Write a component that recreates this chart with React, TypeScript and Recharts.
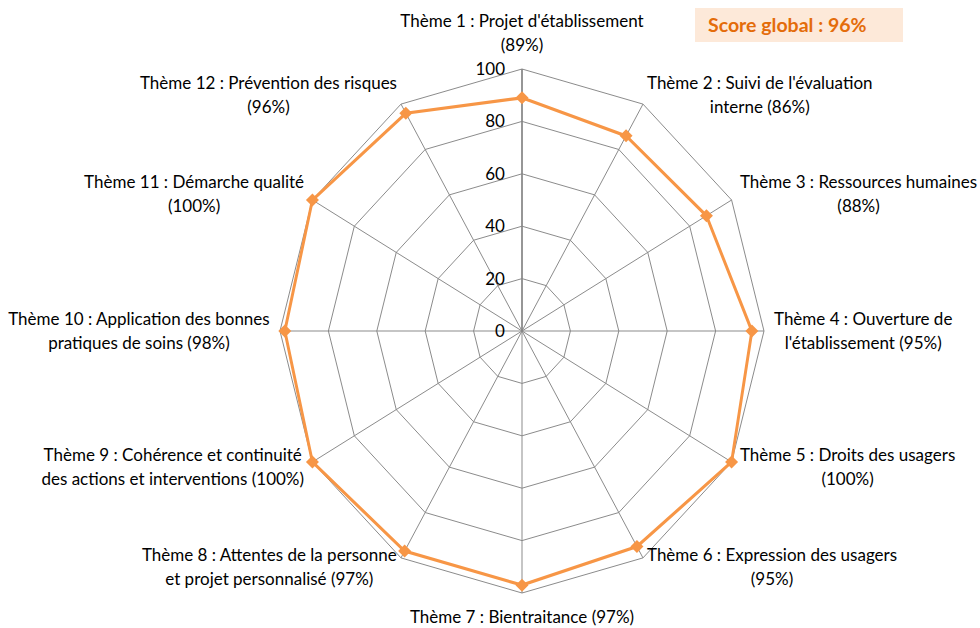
import React from "react";
import {
  PolarAngleAxis,
  PolarGrid,
  PolarRadiusAxis,
  Radar,
  RadarChart,
} from "recharts";

const themes = [
  "Thème 1",
  "Thème 2",
  "Thème 3",
  "Thème 4",
  "Thème 5",
  "Thème 6",
  "Thème 7",
  "Thème 8",
  "Thème 9",
  "Thème 10",
  "Thème 11",
  "Thème 12",
];

const scores = [89, 86, 88, 95, 100, 95, 97, 97, 100, 98, 100, 96];

const labelLines = [
  ["Thème 1 : Projet d'établissement", "(89%)"],
  ["Thème 2 : Suivi de l'évaluation", "interne (86%)"],
  ["Thème 3 : Ressources humaines", "(88%)"],
  ["Thème 4 : Ouverture de", "l'établissement (95%)"],
  ["Thème 5 : Droits des usagers", "(100%)"],
  ["Thème 6 : Expression des usagers", "(95%)"],
  ["Thème 7 : Bientraitance (97%)"],
  ["Thème 8 : Attentes de la personne", "et projet personnalisé (97%)"],
  ["Thème 9 : Cohérence et continuité", "des actions et interventions (100%)"],
  ["Thème 10 : Application des bonnes", "pratiques de soins (98%)"],
  ["Thème 11 : Démarche qualité", "(100%)"],
  ["Thème 12 : Prévention des risques", "(96%)"],
];

const radiusTicks = [0, 20, 40, 60, 80, 100];
const globalScore = "Score global : 96%";

const data = themes.map((t, i) => ({ theme: t, score: scores[i] }));

// the original radar is a bit wider than tall, so the svg gets squeezed with scaleX
const CX = 522; // on screen
const CY = 331;
const R = 262;
const RX = 242;
const K = RX / R;
const SVG_W = 1200;
const SVG_CX = SVG_W / 2;
const FONT = "Lato, 'Open Sans', sans-serif";
const FS = 17;
const LH = 24;

let ctx: CanvasRenderingContext2D | null = null;
function measure(text: string) {
  if (!ctx) ctx = document.createElement("canvas").getContext("2d");
  if (!ctx) return text.length * FS * 0.5;
  ctx.font = `${FS}px ${FONT}`;
  return ctx.measureText(text).width;
}

// screen x -> svg x (before the scaleX)
const toSvgX = (sx: number) => SVG_CX + (sx - CX) / K;
const unsquash = (ax: number) =>
  `translate(${ax},0) scale(${1 / K},1) translate(${-ax},0)`;

function AngleTick(props: any) {
  const { x, y, index } = props;
  const dx = x - SVG_CX;
  const dy = y - CY;
  const len = Math.hypot(dx, dy) || 1;
  const c = dx / len;
  const s = -dy / len;
  const vx = CX + RX * c;
  const vy = CY - R * s;
  const lines = labelLines[index] || [];
  const w = Math.max(...lines.map(measure));
  const h = lines.length * LH;
  let bx: number;
  let by: number;
  if (Math.abs(c) < 0.01) {
    bx = vx;
    by = s > 0 ? vy - 12 - h / 2 : vy + 12 + h / 2;
  } else {
    const gap = 12 * Math.abs(c) - 2;
    bx = c > 0 ? vx + gap + w / 2 : vx - gap - w / 2;
    by = vy - s * 11;
  }
  const ax = toSvgX(bx);
  return (
    <text
      textAnchor="middle"
      fontFamily={FONT}
      fontSize={FS}
      fill="#000"
      transform={unsquash(ax)}
    >
      {lines.map((l, k) => (
        <tspan key={k} x={ax} y={by - h / 2 + LH * k + LH / 2 + FS * 0.35}>
          {l}
        </tspan>
      ))}
    </text>
  );
}

function RadiusTick(props: any) {
  const { y, payload } = props;
  const ax = toSvgX(CX - 17);
  return (
    <text
      x={ax}
      y={y + 6}
      textAnchor="end"
      fontFamily={FONT}
      fontSize={17}
      fill="#000"
      transform={unsquash(ax)}
    >
      {payload.value}
    </text>
  );
}

function Diamond(props: any) {
  const { cx, cy, index } = props;
  const r = 6.5;
  const rx = r / K;
  return (
    <path
      key={`d-${index}`}
      d={`M${cx},${cy - r}L${cx + rx},${cy}L${cx},${cy + r}L${cx - rx},${cy}Z`}
      fill="#F79646"
    />
  );
}

export default function App() {
  return (
    <div style={{ position: "absolute", left: 0, top: 0, width: 980, height: 628, background: "#fff", overflow: "hidden" }}>
      <div
        style={{
          position: "absolute",
          left: CX - SVG_CX,
          top: 0,
          width: SVG_W,
          height: 628,
          transform: `scaleX(${K})`,
          transformOrigin: `${SVG_CX}px 0px`,
        }}
      >
        <RadarChart
          width={SVG_W}
          height={628}
          cx={SVG_CX}
          cy={CY}
          outerRadius={R}
          data={data}
          margin={{ top: 0, right: 0, bottom: 0, left: 0 }}
        >
          <PolarGrid gridType="polygon" stroke="#868686" strokeWidth={1} />
          <PolarAngleAxis
            dataKey="theme"
            tick={AngleTick}
            tickLine={false}
            axisLine={false}
          />
          <PolarRadiusAxis
            angle={90}
            domain={[0, 100]}
            ticks={radiusTicks as any}
            tickCount={6}
            tick={RadiusTick}
            axisLine={{ stroke: "#868686", strokeWidth: 1.6 }}
            tickLine={{ stroke: "#868686" }}
          />
          <Radar
            dataKey="score"
            stroke="#F79646"
            strokeWidth={3.2}
            fill="none"
            fillOpacity={0}
            dot={Diamond}
            isAnimationActive={false}
          />
        </RadarChart>
      </div>
      <div
        style={{
          position: "absolute",
          left: 695,
          top: 8,
          width: 208,
          height: 34,
          background: "#FDE9D9",
          color: "#E46C0A",
          fontFamily: FONT,
          fontWeight: "bold",
          fontSize: 19.5,
          lineHeight: "34px",
          paddingLeft: 13,
          boxSizing: "border-box",
        }}
      >
        {globalScore}
      </div>
    </div>
  );
}
